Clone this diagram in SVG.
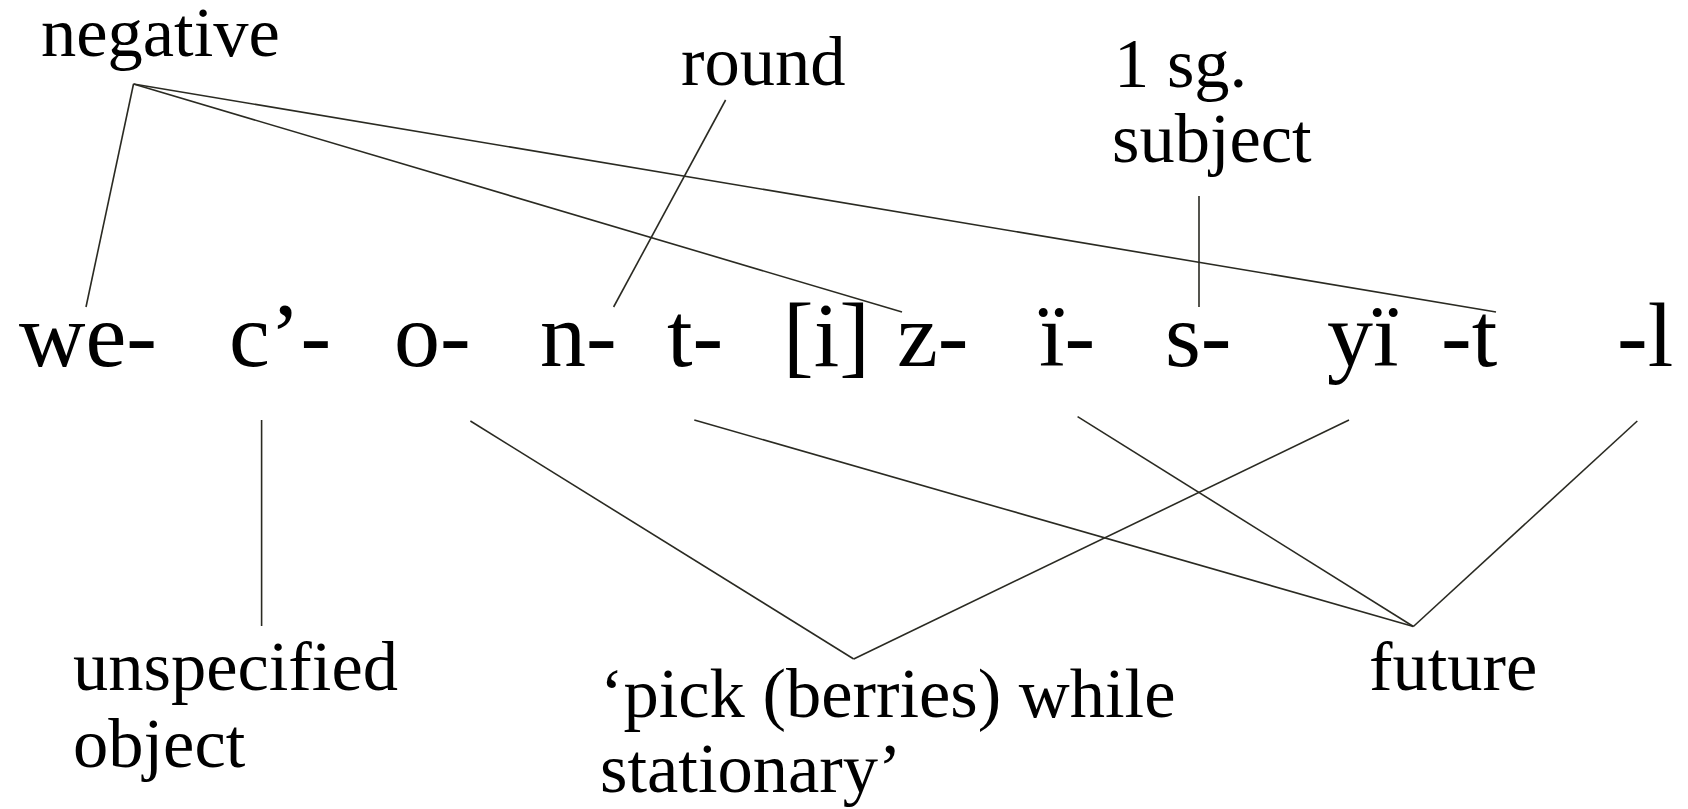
<svg xmlns="http://www.w3.org/2000/svg" width="1688" height="809" viewBox="0 0 1688 809">
<style>
.lbl{font-family:"Liberation Serif",serif;font-size:70.5px;fill:#000}
.morph{font-family:"Liberation Serif",serif;font-size:92px;fill:#000}
.conn line{stroke:#2a2a22;stroke-width:1.6;fill:none}
</style>
<rect width="1688" height="809" fill="#fff"/>
<g class="conn" id="connectors">
<line x1="133.5" y1="84" x2="86" y2="307"/>
<line x1="133.5" y1="84" x2="902" y2="312"/>
<line x1="133.5" y1="84" x2="1496" y2="312"/>
<line x1="725.6" y1="100" x2="613.6" y2="307"/>
<line x1="1199" y1="196" x2="1199" y2="307"/>
<line x1="261.6" y1="420" x2="261.6" y2="626"/>
<line x1="470.4" y1="421" x2="853.7" y2="659"/>
<line x1="1349" y1="420" x2="853.7" y2="659"/>
<line x1="694.3" y1="420" x2="1413.4" y2="626.5"/>
<line x1="1077.6" y1="416.6" x2="1413.4" y2="626.5"/>
<line x1="1637.3" y1="421" x2="1413.4" y2="626.5"/>
</g>
<g id="negative"><text class="lbl" x="41" y="56">negative</text></g>
<g id="round"><text class="lbl" x="681" y="85">round</text></g>
<g id="subject"><text class="lbl" x="1114" y="87">1 sg.</text><text class="lbl" x="1112" y="162">subject</text></g>
<g id="m-we"><text class="morph" x="19" y="366">we-</text></g>
<g id="m-c"><text class="morph" x="229" y="366">c’-</text></g>
<g id="m-o"><text class="morph" x="394" y="366">o-</text></g>
<g id="m-n"><text class="morph" x="540" y="366">n-</text></g>
<g id="m-t"><text class="morph" x="667" y="366">t-</text></g>
<g id="m-i"><text class="morph" x="783" y="366">[i]</text></g>
<g id="m-z"><text class="morph" x="897" y="366">z-</text></g>
<g id="m-ii"><text class="morph" x="1039" y="366">ï-</text></g>
<g id="m-s"><text class="morph" x="1165" y="366">s-</text></g>
<g id="m-yi"><text class="morph" x="1327" y="366">yï</text></g>
<g id="m-t2"><text class="morph" x="1441" y="366">-t</text></g>
<g id="m-l"><text class="morph" x="1617" y="366">-l</text></g>
<g id="unspecified"><text class="lbl" x="73" y="690">unspecified</text><text class="lbl" x="73" y="767">object</text></g>
<g id="pick"><text class="lbl" x="600" y="717">‘pick (berries) while</text><text class="lbl" x="600" y="792">stationary’</text></g>
<g id="future"><text class="lbl" x="1369" y="690">future</text></g>
</svg>
